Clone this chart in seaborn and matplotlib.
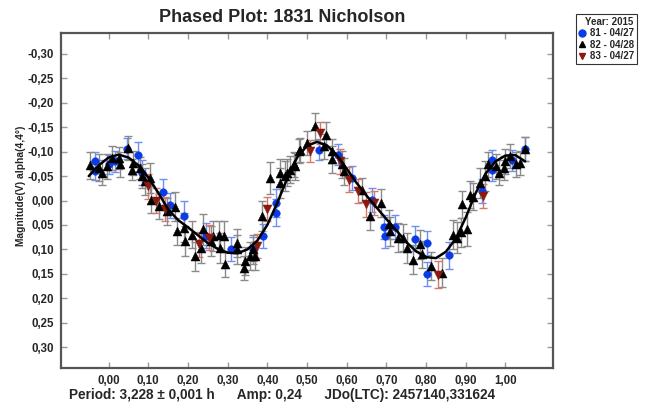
import numpy as np
import pandas as pd
import matplotlib
matplotlib.use("Agg")
import matplotlib.pyplot as plt
import seaborn as sns
from matplotlib.ticker import FixedLocator, FuncFormatter
from matplotlib.lines import Line2D

sns.set_theme(style="white")
plt.rcParams['font.family'] = ['Liberation Sans', 'DejaVu Sans']

# ---------------- data ----------------
# Session 81 (blue circles)
phase_81 = [-0.034, -0.034, 0.000, 0.015, 0.046, 0.073, 0.084, 0.137, 0.155, 0.191,
            0.246, 0.309, 0.363, 0.389, 0.422, 0.422, 0.529, 0.579, 0.613, 0.663,
            0.693, 0.696, 0.721, 0.771, 0.802, 0.802, 0.857, 0.940, 0.966, 0.967,
            1.016, 1.050]
mag_81 = [-0.080, -0.061, -0.074, -0.080, -0.106, -0.094, -0.057, -0.017, 0.010, 0.032,
          0.072, 0.099, 0.099, 0.073, 0.005, 0.025, -0.104, -0.094, -0.046, -0.001,
          0.054, 0.073, 0.054, 0.078, 0.087, 0.151, 0.112, -0.019, -0.062, -0.082,
          -0.082, -0.106]
err_81 = [0.020, 0.020, 0.020, 0.022, 0.022, 0.025, 0.025, 0.028, 0.025, 0.030,
          0.025, 0.025, 0.025, 0.025, 0.028, 0.028, 0.022, 0.022, 0.025, 0.025,
          0.025, 0.025, 0.025, 0.025, 0.025, 0.025, 0.028, 0.025, 0.022, 0.022,
          0.022, 0.025]

# Session 82 (black triangles)
phase_82 = [-0.046, -0.024, -0.017, -0.004, 0.009, 0.025, 0.029, 0.050, 0.059, 0.061,
            0.078, 0.084, 0.092, 0.105, 0.107, 0.126, 0.147, 0.168, 0.172, 0.189,
            0.193, 0.210, 0.217, 0.234, 0.237, 0.259, 0.263, 0.277, 0.281, 0.290,
            0.294, 0.323, 0.323, 0.340, 0.344, 0.357, 0.365, 0.370, 0.386, 0.407,
            0.432, 0.432, 0.445, 0.449, 0.458, 0.466, 0.470, 0.479, 0.483, 0.501,
            0.521, 0.548, 0.542, 0.563, 0.563, 0.588, 0.592, 0.638, 0.659, 0.687,
            0.706, 0.710, 0.730, 0.743, 0.752, 0.768, 0.785, 0.791, 0.813, 0.840,
            0.869, 0.877, 0.887, 0.902, 0.890, 0.911, 0.918, 0.936, 0.949, 0.957,
            0.976, 0.985, 0.997, 0.999, 1.012, 1.027, 1.037, 1.050]
mag_82 = [-0.072, -0.067, -0.057, -0.070, -0.087, -0.087, -0.074, -0.108, -0.063, -0.077,
          -0.067, -0.050, -0.039, -0.046, -0.002, 0.012, 0.022, 0.013, 0.063, 0.056,
          0.083, 0.070, 0.114, 0.097, 0.059, 0.083, 0.073, 0.070, 0.097, 0.073,
          0.131, 0.087, 0.100, 0.138, 0.124, 0.114, 0.100, 0.114, 0.032, -0.046,
          -0.036, -0.057, -0.050, -0.057, -0.063, -0.074, -0.070, -0.101, -0.104, -0.118,
          -0.152, -0.135, -0.111, -0.101, -0.084, -0.074, -0.060, -0.022, 0.031, 0.005,
          0.049, 0.063, 0.076, 0.076, 0.097, 0.121, 0.090, 0.110, 0.134, 0.148,
          0.070, 0.076, 0.065, 0.059, 0.008, -0.012, -0.008, -0.036, -0.050, -0.074,
          -0.070, -0.057, -0.067, -0.080, -0.091, -0.074, -0.077, -0.106]
err_82 = [0.028, 0.028, 0.025, 0.025, 0.025, 0.022, 0.025, 0.025, 0.022, 0.025,
          0.022, 0.025, 0.028, 0.030, 0.028, 0.025, 0.028, 0.030, 0.028, 0.030,
          0.030, 0.028, 0.030, 0.030, 0.032, 0.030, 0.030, 0.028, 0.030, 0.030,
          0.025, 0.028, 0.030, 0.025, 0.028, 0.028, 0.030, 0.028, 0.030, 0.032,
          0.030, 0.028, 0.030, 0.028, 0.028, 0.025, 0.028, 0.025, 0.025, 0.025,
          0.028, 0.025, 0.025, 0.025, 0.028, 0.028, 0.028, 0.025, 0.030, 0.028,
          0.030, 0.030, 0.030, 0.028, 0.030, 0.030, 0.030, 0.028, 0.028, 0.030,
          0.030, 0.032, 0.030, 0.035, 0.028, 0.028, 0.028, 0.030, 0.030, 0.025,
          0.025, 0.025, 0.025, 0.025, 0.025, 0.025, 0.025, 0.025]

# Session 83 (dark red down triangles)
phase_83 = [0.100, 0.120, 0.143, 0.229, 0.252, 0.374, 0.398, 0.508, 0.533, 0.582,
            0.605, 0.628, 0.648, 0.670, 0.830, 0.944]
mag_83 = [-0.029, 0.000, 0.018, 0.090, 0.076, 0.093, 0.018, -0.101, -0.138, -0.080,
          -0.043, -0.019, 0.008, 0.005, 0.152, -0.009]
err_83 = [0.025, 0.025, 0.025, 0.025, 0.025, 0.025, 0.025, 0.022, 0.022, 0.025,
          0.025, 0.025, 0.025, 0.025, 0.028, 0.025]

# Fourier fit curve
fit_phase = [-0.05, -0.025, 0.0, 0.025, 0.05, 0.075, 0.10, 0.125, 0.15, 0.175,
             0.20, 0.225, 0.25, 0.275, 0.30, 0.325, 0.35, 0.375, 0.40, 0.425,
             0.45, 0.475, 0.50, 0.525, 0.55, 0.575, 0.60, 0.625, 0.65, 0.675,
             0.70, 0.725, 0.75, 0.775, 0.80, 0.825, 0.85, 0.875, 0.90, 0.925,
             0.95, 0.975, 1.00, 1.025, 1.05]
fit_mag = [-0.050, -0.072, -0.088, -0.094, -0.088, -0.072, -0.047, -0.016, 0.018, 0.040,
           0.055, 0.071, 0.087, 0.099, 0.107, 0.108, 0.100, 0.082, 0.050, 0.005,
           -0.045, -0.088, -0.112, -0.120, -0.113, -0.093, -0.065, -0.036, -0.010, 0.014,
           0.038, 0.061, 0.085, 0.104, 0.116, 0.118, 0.105, 0.078, 0.035, -0.015,
           -0.055, -0.080, -0.092, -0.093, -0.080]

x_ticks = [0.0, 0.1, 0.2, 0.3, 0.4, 0.5, 0.6, 0.7, 0.8, 0.9, 1.0]
y_ticks = [-0.30, -0.25, -0.20, -0.15, -0.10, -0.05, 0.0, 0.05, 0.10, 0.15, 0.20, 0.25, 0.30]

sessions = [
    ("81 - 04/27", phase_81, mag_81, err_81, "o", "#0a3be6", "#6f8ff5", 5.5),
    ("82 - 04/28", phase_82, mag_82, err_82, "^", "#000000", "#8a8a8a", 6.5),
    ("83 - 04/27", phase_83, mag_83, err_83, "v", "#8a1a10", "#d07a70", 6.5),
]

# ---------------- figure ----------------
W, H = 649, 404
fig = plt.figure(figsize=(W / 100, H / 100), dpi=100)
ax = fig.add_axes([61 / W, 1 - 368 / H, (553 - 61) / W, (368 - 33) / H])
ax.set_facecolor("white")

for label, ph, mg, er, mk, col, ecol, ms in sessions:
    ax.errorbar(ph, mg, yerr=er, fmt="none", ecolor=ecol, elinewidth=1.0,
                capsize=2.6, capthick=1.0, zorder=2)

for label, ph, mg, er, mk, col, ecol, ms in sessions:
    df = pd.DataFrame({"phase": ph, "mag": mg})
    sns.scatterplot(data=df, x="phase", y="mag", marker=mk, color=col,
                    s=ms ** 2, edgecolor=col, linewidth=0.3, ax=ax, zorder=3,
                    legend=False)

fit_df = pd.DataFrame({"phase": fit_phase, "mag": fit_mag})
sns.lineplot(data=fit_df, x="phase", y="mag", color="black", lw=1.8,
             sort=False, estimator=None, ax=ax, zorder=4)

ax.set_xlim(-0.12, 1.12)
ax.set_ylim(0.343, -0.343)
ax.xaxis.set_major_locator(FixedLocator(x_ticks))
ax.yaxis.set_major_locator(FixedLocator(y_ticks))
fmt = FuncFormatter(lambda v, p: ("%.2f" % (0.0 if abs(v) < 1e-9 else v)).replace(".", ","))
ax.xaxis.set_major_formatter(fmt)
ax.yaxis.set_major_formatter(fmt)
ax.tick_params(direction="in", length=4, width=1, color="#999999",
               top=True, right=True, bottom=True, left=True,
               labelsize=8.3, pad=5)
for lab in ax.get_xticklabels() + ax.get_yticklabels():
    lab.set_fontweight("bold")
for s in ax.spines.values():
    s.set_color("#555555")
    s.set_linewidth(1.6)
ax.set_xlabel("")
ax.set_ylabel("")
ax.grid(False)

fig.text(21 / W, 1 - 186 / H, "Magnitude(V) alpha(4,4°)", rotation=90,
         ha="center", va="center", fontsize=7.4, fontweight="bold")

cx = 282 / W
fig.text(cx, 1 - 17 / H, "Phased Plot: 1831 Nicholson", ha="center", va="center",
         fontsize=13, fontweight="bold")
fig.text(cx, 1 - 395 / H,
         "Period: 3,228 \u00b1 0,001 h      Amp: 0,24      JDo(LTC): 2457140,331624",
         ha="center", va="center", fontsize=9.8, fontweight="bold")

handles = [Line2D([], [], marker=s[4], color=s[5], linestyle="none", markersize=5)
           for s in sessions]
leg = fig.legend(handles, [s[0] for s in sessions], title="Year: 2015",
                 loc="upper left", bbox_to_anchor=(576 / W, 1 - 14 / H),
                 frameon=True, fancybox=False, fontsize=7, title_fontsize=7,
                 handlelength=0.6, handletextpad=0.5, borderpad=0.3,
                 labelspacing=0.15, alignment="right", borderaxespad=0)
leg.get_frame().set_edgecolor("black")
leg.get_frame().set_linewidth(0.8)
leg.get_title().set_fontweight("bold")
for t in leg.get_texts():
    t.set_fontweight("bold")

fig.savefig("out.png", dpi=100, facecolor="white")
